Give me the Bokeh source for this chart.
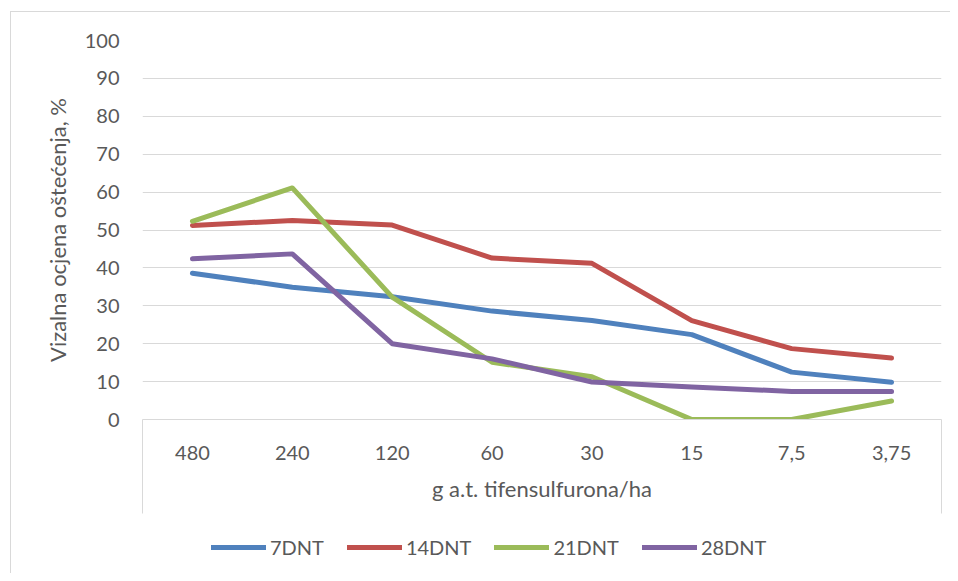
from bokeh.plotting import figure
from bokeh.models import Range1d, FixedTicker, Legend, LegendItem, InlineStyleSheet
from bokeh.layouts import column
from bokeh.embed import file_html
from bokeh.resources import INLINE

# ---- data ----
doses = ["480", "240", "120", "60", "30", "15", "7,5", "3,75"]
dnt7 = [38.6, 34.9, 32.4, 28.6, 26.1, 22.4, 12.5, 9.8]
dnt14 = [51.2, 52.5, 51.3, 42.6, 41.2, 26.1, 18.7, 16.2]
dnt21 = [52.3, 61.1, 32.3, 15.1, 11.3, 0.0, 0.0, 4.9]
dnt28 = [42.4, 43.7, 20.0, 16.0, 9.9, 8.6, 7.4, 7.4]
series_names = ["7DNT", "14DNT", "21DNT", "28DNT"]
y_ticks = [0, 10, 20, 30, 40, 50, 60, 70, 80, 90, 100]
x_title = "g a.t. tifensulfurona/ha"
y_title = "Vizalna ocjena oštećenja, %"

colors = ["#4F81BD", "#C0504D", "#9BBB59", "#8064A2"]
FONT = "Lato"
TXT = "#595959"
GRID = "#D9D9D9"

n = len(doses)
x_pos = [i + 0.5 for i in range(n)]
series = [dnt7, dnt14, dnt21, dnt28]

p = figure(width=950, height=523, output_backend="svg", toolbar_location=None,
           x_range=Range1d(0, n), y_range=Range1d(0, 100),
           min_border_left=142, min_border_right=9, min_border_top=40,
           min_border_bottom=104)
p.outline_line_color = None
p.background_fill_color = "white"
p.border_fill_color = "white"
p.stylesheets = [InlineStyleSheet(css=(
    ":host { position: relative; }"
    ":host::before { content: ''; position: absolute; left: 10px; top: 11px;"
    " right: 0; bottom: 0; border-left: 1px solid #D9D9D9;"
    " border-top: 1px solid #D9D9D9; z-index: 5; pointer-events: none; }"))]

# grid
p.xgrid.visible = False
p.ygrid.ticker = FixedTicker(ticks=y_ticks)
p.ygrid.grid_line_color = GRID
p.ygrid.grid_line_width = 1

# y axis
ya = p.yaxis[0]
ya.ticker = FixedTicker(ticks=y_ticks)
ya.axis_line_color = None
ya.major_tick_line_color = None
ya.minor_tick_line_color = None
ya.major_tick_out = 0
ya.major_tick_in = 0
ya.minor_tick_out = 0
ya.minor_tick_in = 0
ya.major_label_standoff = 23
ya.major_label_text_font = FONT
ya.major_label_text_font_size = "20px"
ya.major_label_text_color = TXT
ya.axis_label = y_title
ya.axis_label_text_font = FONT
ya.axis_label_text_font_size = "22px"
ya.axis_label_text_font_style = "normal"
ya.axis_label_text_color = TXT
ya.axis_label_standoff = 11

# x axis (category labels + enclosing box lines at both ends)
xa = p.xaxis[0]
xa.ticker = FixedTicker(ticks=x_pos, minor_ticks=[0, n])
xa.major_label_overrides = {x: lab for x, lab in zip(x_pos, doses)}
xa.axis_line_color = GRID
xa.axis_line_width = 1
xa.major_tick_line_color = None
xa.major_tick_out = 0
xa.major_tick_in = 0
xa.minor_tick_in = 0
xa.minor_tick_out = 94
xa.minor_tick_line_color = GRID
xa.minor_tick_line_width = 1
xa.major_label_standoff = -68
xa.major_label_text_font = FONT
xa.major_label_text_font_size = "20px"
xa.major_label_text_color = TXT
xa.axis_label = x_title
xa.axis_label_text_font = FONT
xa.axis_label_text_font_size = "22px"
xa.axis_label_text_font_style = "normal"
xa.axis_label_text_color = TXT
xa.axis_label_standoff = 12

# data lines
for vals, c in zip(series, colors):
    p.line(x_pos, vals, line_color=c, line_width=5,
           line_join="round", line_cap="round")

# legend strip below the chart (its proxy lines lie outside its visible range)
leg = figure(width=950, height=50, output_backend="svg", toolbar_location=None,
             x_range=Range1d(100, 101), y_range=Range1d(0, 100),
             min_border_left=142, min_border_right=9, min_border_top=0,
             min_border_bottom=0, x_axis_type=None, y_axis_type=None)
leg.grid.visible = False
leg.outline_line_color = None
leg.border_fill_color = "white"
leg.background_fill_color = "white"
leg.stylesheets = [InlineStyleSheet(css=(
    ":host { position: relative; }"
    ":host::before { content: ''; position: absolute; left: 10px; top: 0;"
    " bottom: 0; border-left: 1px solid #D9D9D9; z-index: 5;"
    " pointer-events: none; }"))]
items = []
for name, vals, c in zip(series_names, series, colors):
    r = leg.line(x_pos, vals, line_color=c, line_width=5, line_cap="round")
    items.append(LegendItem(label=name, renderers=[r]))
legend = Legend(items=items, orientation="horizontal", location=(69, 14),
                border_line_color=None, background_fill_alpha=0,
                label_text_font=FONT, label_text_font_size="20px",
                label_text_color=TXT, glyph_width=55, glyph_height=20,
                label_standoff=4, spacing=23, padding=0, margin=0)
leg.add_layout(legend)

layout = column(p, leg, spacing=0)
open("out.html", "w").write(file_html(layout, INLINE))
